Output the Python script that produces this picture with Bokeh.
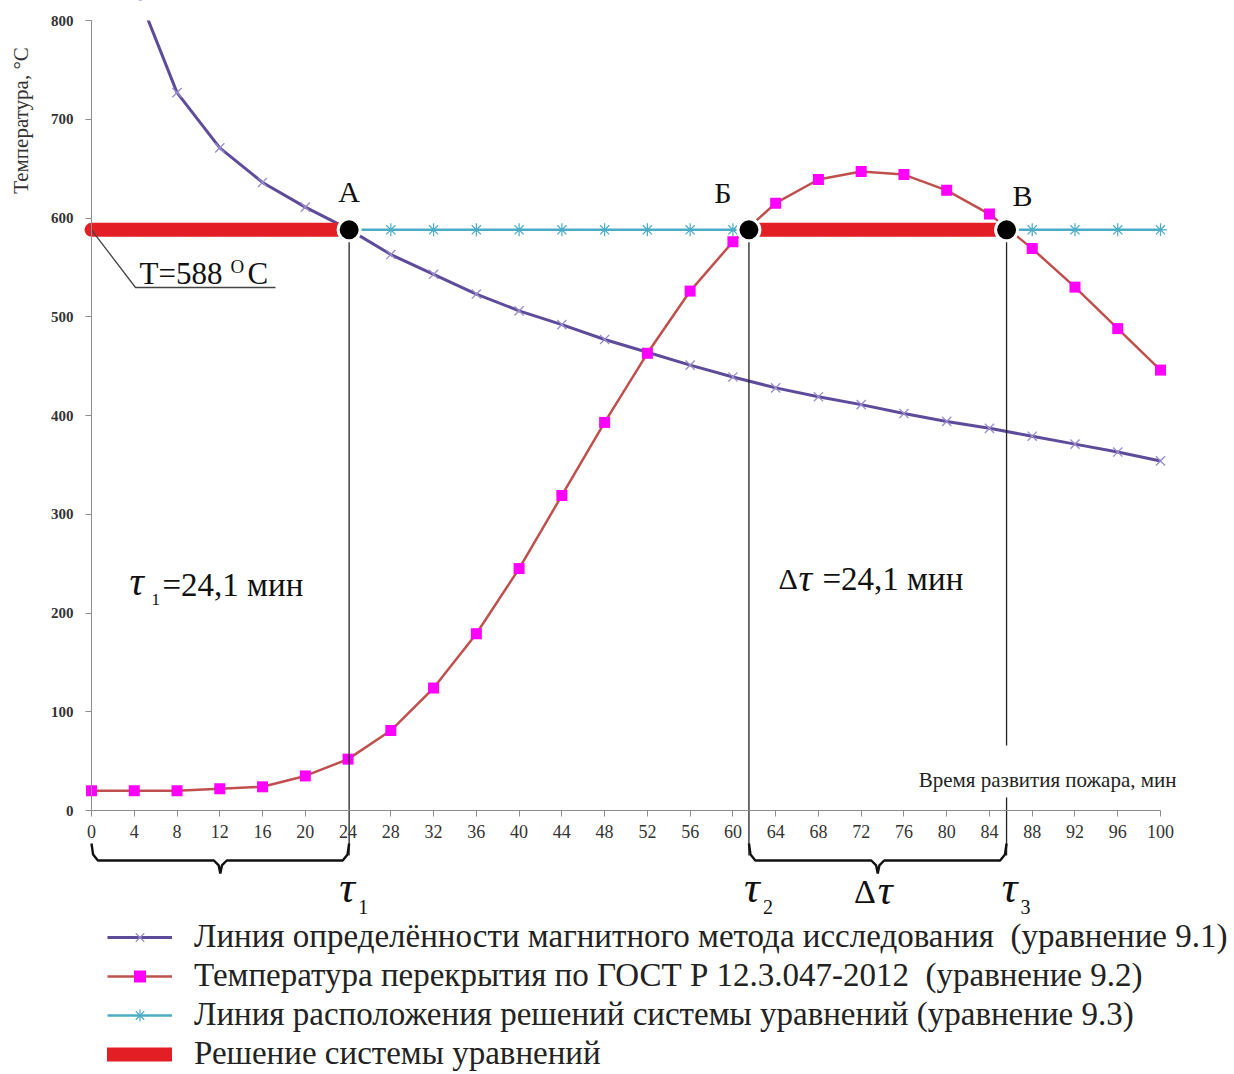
import numpy as np
from bokeh.plotting import figure
from bokeh.models import Range1d, FixedTicker, Legend, LegendItem
from bokeh.core.properties import value
from bokeh.embed import file_html
from bokeh.resources import INLINE

# ---------------- data ----------------
time_magnetic = [4, 8, 12, 16, 20, 24, 28, 32, 36, 40, 44, 48, 52, 56, 60, 64, 68, 72, 76, 80, 84, 88, 92, 96, 100]
temp_magnetic = [836, 727, 671, 636, 611, 589, 563, 543, 523, 506, 492, 477, 464, 451, 439, 428, 419, 411, 402, 394, 387, 379, 371, 363, 354]

time_gost = [0, 4, 8, 12, 16, 20, 24, 28, 32, 36, 40, 44, 48, 52, 56, 60, 64, 68, 72, 76, 80, 84, 88, 92, 96, 100]
temp_gost = [20, 20, 20, 22, 24, 35, 52, 81, 124, 179, 245, 319, 393, 463, 526, 576, 615, 639, 647, 644, 628, 604, 569, 530, 488, 446]

time_level = [0, 4, 8, 12, 16, 20, 24, 28, 32, 36, 40, 44, 48, 52, 56, 60, 64, 68, 72, 76, 80, 84, 88, 92, 96, 100]
temp_level = [588] * len(time_level)

solution_start = [0, 61.5]
solution_end = [24.1, 85.6]
solution_temp = 588

point_names = ["А", "Б", "В"]
point_time = [24.1, 61.5, 85.6]

x_ticks = list(range(0, 101, 4))
y_ticks = list(range(0, 801, 100))

legend_labels = [
    "Линия определённости магнитного метода исследования  (уравнение 9.1)",
    "Температура перекрытия по ГОСТ Р 12.3.047-2012  (уравнение 9.2)",
    "Линия расположения решений системы уравнений (уравнение 9.3)",
    "Решение системы уравнений",
]
y_label = "Температура, °C"
x_label = "Время развития пожара, мин"
duration_text = "=24,1 мин"

# ---------------- geometry (pixel mapping of the reference) ----------------
W, H = 1234, 1074
PX_PER_X = 10.69
PX_PER_Y = 0.9875
X0_PX, Y0_PX = 91, 810

x_start = -X0_PX / PX_PER_X
x_end = (W - X0_PX) / PX_PER_X
y_end = Y0_PX / PX_PER_Y
y_start = (Y0_PX - H) / PX_PER_Y
y_max = 800

def ypx(py):
    return (Y0_PX - py) / PX_PER_Y

def xpx(px):
    return (px - X0_PX) / PX_PER_X

p = figure(width=W, height=H, output_backend="svg", toolbar_location=None,
           x_range=Range1d(x_start, x_end), y_range=Range1d(y_start, y_end),
           min_border_left=0, min_border_right=0, min_border_top=0, min_border_bottom=0)
p.outline_line_color = None
p.grid.visible = False
p.background_fill_color = "white"
p.border_fill_color = "white"

SERIF = "Liberation Serif"
FONT = value(SERIF)
INK = "#111111"

# axes at fixed locations
xa = p.xaxis[0]
xa.fixed_location = 0
xa.bounds = (0, 100)
xa.ticker = FixedTicker(ticks=x_ticks)
xa.minor_tick_line_color = None
xa.axis_line_color = "#8c8c8c"
xa.major_tick_line_color = "#8c8c8c"
xa.major_tick_in = 0
xa.major_tick_out = 6
xa.major_label_text_font = SERIF
xa.major_label_text_font_size = "18px"
xa.major_label_text_color = "#333333"
xa.major_label_standoff = 8

ya = p.yaxis[0]
ya.fixed_location = 0
ya.bounds = (0, y_max)
ya.ticker = FixedTicker(ticks=y_ticks)
ya.minor_tick_line_color = None
ya.axis_line_color = "#8c8c8c"
ya.major_tick_line_color = "#8c8c8c"
ya.major_tick_in = 0
ya.major_tick_out = 6
ya.major_label_text_font = SERIF
ya.major_label_text_font_size = "15px"
ya.major_label_text_font_style = "bold"
ya.major_label_text_color = "#333333"
ya.major_label_standoff = 12

# ---------------- series ----------------
cyan = "#4BACC6"
r_cyan_line = p.line(time_level, temp_level, line_color=cyan, line_width=2.5)
r_cyan_mark = p.scatter(time_level, temp_level, marker="asterisk", size=13, line_color=cyan, line_width=1.2)

r_pur_line = p.line(time_magnetic, temp_magnetic, line_color="#5F4B9B", line_width=3)
r_pur_mark = p.scatter(time_magnetic, temp_magnetic, marker="x", size=13, line_color="#9A8CCB", line_width=1.3)

# white mask above the top of the value axis (chart area ends at y_max)
p.quad(left=x_start, right=x_end, bottom=y_max, top=y_end, fill_color="white", line_color=None)

r_pink_line = p.line(time_gost, temp_gost, line_color="#C0504D", line_width=2.5)
r_pink_mark = p.scatter(time_gost, temp_gost, marker="square", size=11, fill_color="#FF00FF", line_color=None)

r_red = p.segment(x0=solution_start, y0=[solution_temp] * 2, x1=solution_end, y1=[solution_temp] * 2,
                  line_color="#E31E24", line_width=14, line_cap="round")

# vertical guide lines from solution points
v_low = ypx(855)
p.segment(x0=point_time[:2], y0=[solution_temp] * 2, x1=point_time[:2], y1=[v_low] * 2,
          line_color="#222222", line_width=1.3)
p.segment(x0=[point_time[2], point_time[2]], y0=[solution_temp, ypx(797)],
          x1=[point_time[2], point_time[2]], y1=[ypx(745), v_low],
          line_color="#222222", line_width=1.3)

p.scatter(point_time, [solution_temp] * 3, marker="circle", size=22, fill_color="black",
          line_color="white", line_width=3)

# point letters
p.text(x=point_time, y=[ypx(191), ypx(192), ypx(195)], text=point_names,
       x_offset=[0, -26, 16], text_align="center", text_baseline="alphabetic",
       text_font=FONT, text_font_size="30px", text_color=INK)

# braces under the axis
def brace(xa_, xb_):
    ytop, ymid, ytip = ypx(843), ypx(860), ypx(873)
    mid = (xa_ + xb_) / 2
    xs = [xa_, xa_ + 0.15, xa_ + 0.6, mid - 0.6, mid - 0.15, mid, mid + 0.15, mid + 0.6, xb_ - 0.6, xb_ - 0.15, xb_]
    ys = [ytop, ymid + 6, ymid, ymid, ymid - 5, ytip, ymid - 5, ymid, ymid, ymid + 6, ytop]
    return xs, ys

bx1, by1 = brace(solution_start[0], solution_end[0])
bx2, by2 = brace(solution_start[1], solution_end[1])
p.multi_line([bx1, bx2], [by1, by2], line_color=INK, line_width=2.4)

# tau labels below axis
p.text(x=point_time, y=[ypx(887)] * 3, text=["τ", "τ", "τ"],
       x_offset=[-2, 3, 3], text_align="center", text_baseline="alphabetic", text_font=FONT,
       text_font_style="italic", text_font_size="44px", text_color=INK)
p.text(x=point_time, y=[ypx(906)] * 3, text=["1", "2", "3"],
       x_offset=[14, 19, 19], text_align="center", text_baseline="alphabetic", text_font=FONT,
       text_font_size="20px", text_color=INK)
mid2 = (solution_start[1] + solution_end[1]) / 2
p.text(x=[mid2], y=[ypx(891)], text=["Δ"], x_offset=[-2], text_align="right", text_baseline="alphabetic",
       text_font=FONT, text_font_size="34px", text_color=INK)
p.text(x=[mid2], y=[ypx(889)], text=["τ"], x_offset=[0], text_align="left", text_baseline="alphabetic",
       text_font=FONT, text_font_style="italic", text_font_size="42px", text_color=INK)

# duration labels
p.text(x=[xpx(129)], y=[ypx(581)], text=["τ"], text_baseline="alphabetic", text_font=FONT,
       text_font_style="italic", text_font_size="40px", text_color=INK)
p.text(x=[xpx(151)], y=[ypx(599)], text=["1"], text_baseline="alphabetic", text_font=FONT,
       text_font_size="17px", text_color=INK)
p.text(x=[xpx(162)], y=[ypx(584)], text=[duration_text], text_baseline="alphabetic", text_font=FONT,
       text_font_size="33px", text_color=INK)
p.text(x=[xpx(778)], y=[ypx(578)], text=["Δ"], text_baseline="alphabetic", text_font=FONT,
       text_font_size="30px", text_color=INK)
p.text(x=[xpx(798)], y=[ypx(577)], text=["τ"], text_baseline="alphabetic", text_font=FONT,
       text_font_style="italic", text_font_size="38px", text_color=INK)
p.text(x=[xpx(822)], y=[ypx(578)], text=[duration_text], text_baseline="alphabetic", text_font=FONT,
       text_font_size="33px", text_color=INK)

# T=588 °C label with leader
p.line([0, xpx(135), xpx(275)], [solution_temp, ypx(287), ypx(287)], line_color="#444444", line_width=1.3)
p.text(x=[xpx(139)], y=[ypx(273)], text=["T=588"], text_baseline="alphabetic", text_font=FONT,
       text_font_size="31px", text_color=INK)
p.text(x=[xpx(230)], y=[ypx(266)], text=["O"], text_baseline="alphabetic", text_font=FONT,
       text_font_size="19px", text_color=INK)
p.text(x=[xpx(247)], y=[ypx(273)], text=["C"], text_baseline="alphabetic", text_font=FONT,
       text_font_size="31px", text_color=INK)

# axis titles
p.text(x=[xpx(1176)], y=[ypx(779)], text=[x_label], text_align="right", text_baseline="alphabetic",
       text_font=FONT, text_font_size="21px", text_color="#222222")
p.text(x=[xpx(20)], y=[ypx(120)], text=[y_label], angle=np.pi / 2, text_align="center",
       text_baseline="middle", text_font=FONT, text_font_size="21px", text_color="#333333")

# ---------------- legend ----------------
legend = Legend(items=[
    LegendItem(label=legend_labels[0], renderers=[r_pur_line, r_pur_mark]),
    LegendItem(label=legend_labels[1], renderers=[r_pink_line, r_pink_mark]),
    LegendItem(label=legend_labels[2], renderers=[r_cyan_line, r_cyan_mark]),
    LegendItem(label=legend_labels[3], renderers=[r_red]),
], location=(107, 2))
legend.padding = 0
legend.margin = 0
legend.border_line_color = None
legend.background_fill_alpha = 0
legend.glyph_width = 65
legend.glyph_height = 30
legend.label_height = 30
legend.spacing = 2
legend.label_standoff = 22
legend.label_text_font = SERIF
legend.label_text_font_size = "33px"
legend.label_text_color = "#222222"
p.add_layout(legend, "center")

open("out.html", "w").write(file_html(p, INLINE))
